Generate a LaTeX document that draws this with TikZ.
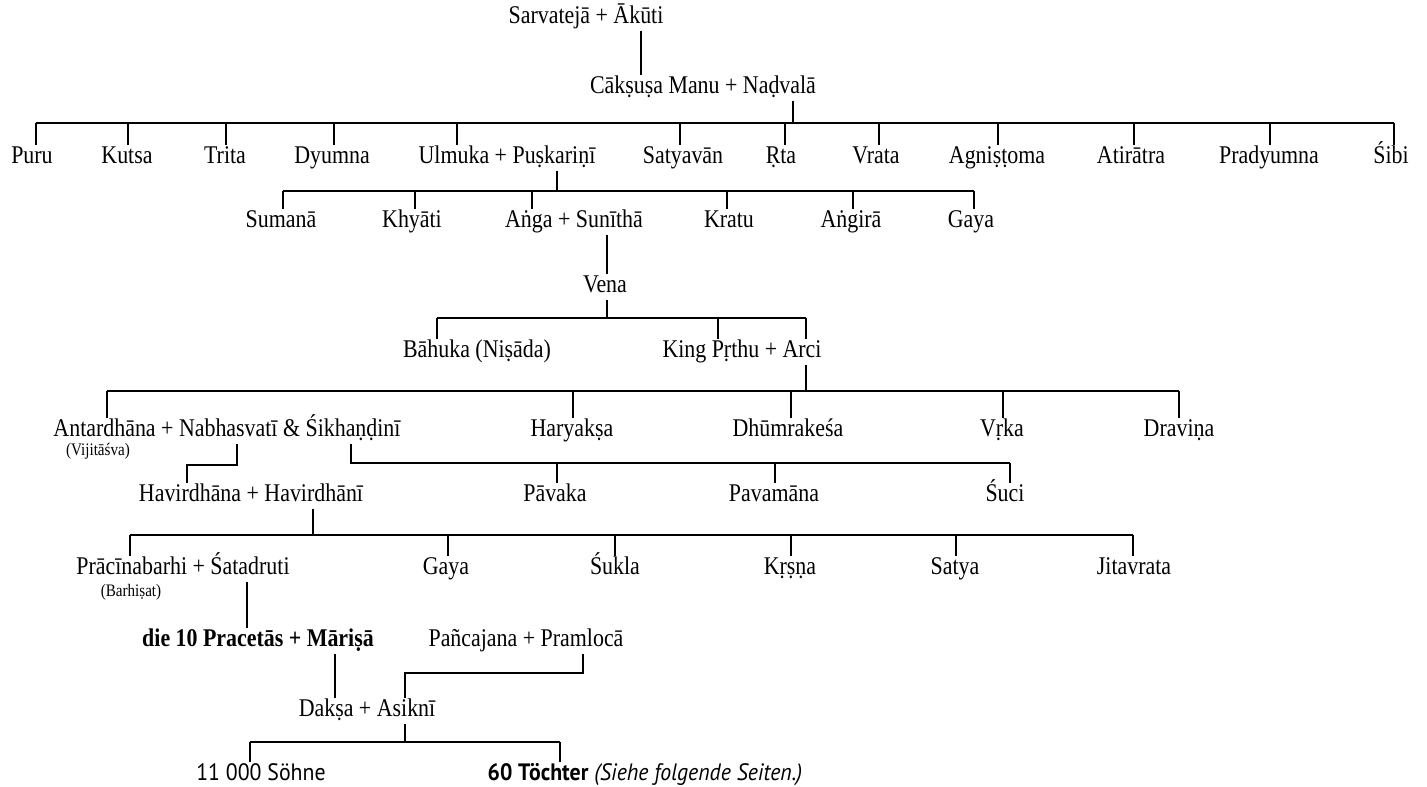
\documentclass[tikz,border=0pt]{standalone}
\usepackage{fontspec}
\setmainfont[FakeStretch=0.86]{Liberation Serif}
\setsansfont[FakeStretch=0.92]{PT Sans}

\tikzset{
  person/.style={inner xsep=0pt, inner ysep=3pt, text height=0.7em, text depth=0.1em,
    font=\fontsize{14.5pt}{17pt}\selectfont},
  aka/.style={inner sep=0pt, font=\fontsize{10pt}{12pt}\selectfont},
  conn/.style={line width=1pt},
  tick/.style={line width=0.9pt}
}

\begin{document}
\begin{tikzpicture}[x=0.02cm, y=-0.02cm]
  \useasboundingbox (0,0) rectangle (1427,787);

  \node [person] (sarva) at (586,18) {Sarvatejā + Ākūti};
  \node [person] (manu) at (703,88) {Cākṣuṣa Manu + Naḍvalā};
  \draw [conn] (641,0 |- sarva.south) -- (641,0 |- manu.north);

  % children of Cakshusa Manu
  \node [person] (puru) at (32,158) {Puru};
  \node [person] (kutsa) at (127,158) {Kutsa};
  \node [person] (trita) at (225,158) {Trita};
  \node [person] (dyumna) at (332,158) {Dyumna};
  \node [person] (ulmuka) at (507,158) {Ulmuka + Puṣkariṇī};
  \node [person] (satyavan) at (683,158) {Satyavān};
  \node [person] (rta) at (781,158) {Ṛta};
  \node [person] (vrata) at (876,158) {Vrata};
  \node [person] (agni) at (997,158) {Agniṣṭoma};
  \node [person] (atiratra) at (1131,158) {Atirātra};
  \node [person] (pradyumna) at (1269,158) {Pradyumna};
  \node [person] (sibi) at (1391,158) {Śibi};
  \draw [conn] (793,0 |- manu.south) -- (793,123);
  \draw [conn] (36,123) -- (1394,123);
  \foreach \n/\x in {puru/36, kutsa/128, trita/226, dyumna/334, ulmuka/457, satyavan/680,
      rta/785, vrata/879, agni/998, atiratra/1134, pradyumna/1270, sibi/1394}
    \draw [tick] (\x,123) -- (\x,0 |- \n.north);

  % children of Ulmuka
  \node [person] (sumana) at (281,222) {Sumanā};
  \node [person] (khyati) at (412,222) {Khyāti};
  \node [person] (anga) at (574,222) {Aṅga + Sunīthā};
  \node [person] (kratu) at (729,222) {Kratu};
  \node [person] (angira) at (851,222) {Aṅgirā};
  \node [person] (gaya) at (971,222) {Gaya};
  \draw [conn] (557,0 |- ulmuka.south) -- (557,191);
  \draw [conn] (283,191) -- (974,191);
  \foreach \n/\x in {sumana/283, khyati/415, anga/532, kratu/727, angira/853, gaya/974}
    \draw [tick] (\x,191) -- (\x,0 |- \n.north);

  \node [person] (vena) at (605,287) {Vena};
  \draw [conn] (607,0 |- anga.south) -- (607,0 |- vena.north);

  \node [person] (bahuka) at (477,352) {Bāhuka (Niṣāda)};
  \node [person] (prthu) at (742,352) {King Pṛthu + Arci};
  \draw [conn] (607,0 |- vena.south) -- (607,318);
  \draw [conn] (437,318) -- (806,318);
  \foreach \x in {718, 806}
    \draw [tick] (\x,318) -- (\x,0 |- prthu.north);
  \draw [tick] (437,318) -- (437,0 |- bahuka.north);

  % children of Prthu
  \node [person] (antar) at (227,431) {Antardhāna + Nabhasvatī \& Śikhaṇḍinī};
  \node [aka] (vijit) at (98,451) {(Vijitāśva)};
  \node [person] (haryaksa) at (572,431) {Haryakṣa};
  \node [person] (dhumra) at (788,431) {Dhūmrakeśa};
  \node [person] (vrka) at (1002,431) {Vṛka};
  \node [person] (dravina) at (1179,431) {Draviṇa};
  \draw [conn] (806,0 |- prthu.south) -- (806,391);
  \draw [conn] (107,391) -- (1179,391);
  \foreach \n/\x in {antar/107, haryaksa/573, dhumra/791, vrka/1003, dravina/1179}
    \draw [tick] (\x,391) -- (\x,0 |- \n.north);

  \node [person] (havir) at (251,496) {Havirdhāna + Havirdhānī};
  \node [person] (pavaka) at (555,496) {Pāvaka};
  \node [person] (pavamana) at (774,496) {Pavamāna};
  \node [person] (suci) at (1005,496) {Śuci};
  \draw [conn] (237,0 |- antar.south) -- (237,465) -- (187,465) -- (187,0 |- havir.north);
  \draw [conn] (351,0 |- antar.south) -- (351,463) -- (1010,463);
  \foreach \n/\x in {pavaka/557, pavamana/775, suci/1010}
    \draw [tick] (\x,463) -- (\x,0 |- \n.north);

  % children of Havirdhana
  \node [person] (pracina) at (183,569) {Prācīnabarhi + Śatadruti};
  \node [aka] (barhisat) at (131,592) {(Barhiṣat)};
  \node [person] (gaya2) at (446,569) {Gaya};
  \node [person] (sukla) at (615,569) {Śukla};
  \node [person] (krsna) at (790,569) {Kṛṣṇa};
  \node [person] (satya) at (955,569) {Satya};
  \node [person] (jitavrata) at (1134,569) {Jitavrata};
  \draw [conn] (313,0 |- havir.south) -- (313,535);
  \draw [conn] (130,535) -- (1133,535);
  \foreach \n/\x in {pracina/130, gaya2/448, sukla/615, krsna/791, satya/956, jitavrata/1133}
    \draw [tick] (\x,535) -- (\x,0 |- \n.north);

  \node [person] (pracetas) at (258,641) {\textbf{die 10 Pracetās + Māriṣā}};
  \node [person] (panca) at (526,641) {Pañcajana + Pramlocā};
  \draw [conn] (247,0 |- pracina.south) -- (247,0 |- pracetas.north);

  \node [person] (daksa) at (367,711) {Dakṣa + Asiknī};
  \draw [conn] (335,0 |- pracetas.south) -- (335,0 |- daksa.north);
  \draw [conn] (583,0 |- panca.south) -- (583,673) -- (405,673) -- (405,0 |- daksa.north);

  \node [person, font=\sffamily\fontsize{13.5pt}{16pt}\selectfont] (sohne) at (261,775) {11 000 Söhne};
  \node [person, font=\sffamily\fontsize{13.5pt}{16pt}\selectfont] (tochter) at (645,775)
    {\textbf{60 Töchter} \textit{(Siehe folgende Seiten.)}};
  \draw [conn] (405,0 |- daksa.south) -- (405,742);
  \draw [conn] (250,742) -- (560,742);
  \draw [tick] (250,742) -- (250,0 |- sohne.north);
  \draw [tick] (560,742) -- (560,0 |- tochter.north);
\end{tikzpicture}
\end{document}
